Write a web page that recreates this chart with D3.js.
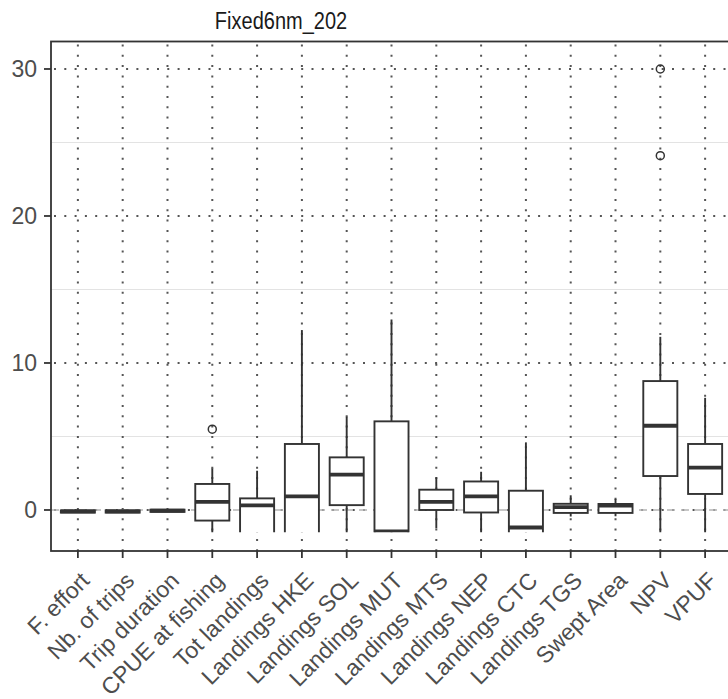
<!DOCTYPE html>
<html>
<head>
<meta charset="utf-8">
<script src="https://cdn.jsdelivr.net/npm/d3@7"></script>
<style>
  body { margin: 0; background: #fff; }
  text { font-family: "Liberation Sans", Arial, sans-serif; }
</style>
</head>
<body>
<svg id="chart"></svg>
<script>
const chartTitle = 'Fixed6nm_202';
const categories = ['F. effort', 'Nb. of trips', 'Trip duration', 'CPUE at fishing', 'Tot landings',
  'Landings HKE', 'Landings SOL', 'Landings MUT', 'Landings MTS', 'Landings NEP',
  'Landings CTC', 'Landings TGS', 'Swept Area', 'NPV', 'VPUF'];
const whiskerLow  = [-0.18, -0.18, -0.13, -2.0, -2.5, -2.5, -2.0, -2.5, -1.25, -2.0, -2.5, -0.45, -0.42, -2.0, -2.0];
const q1Values    = [-0.18, -0.18, -0.13, -0.72, -2.0, -2.0, 0.33, -2.0, 0.0, -0.17, -2.0, -0.2, -0.2, 2.31, 1.09];
const medians     = [-0.1, -0.1, -0.05, 0.55, 0.32, 0.93, 2.4, -1.45, 0.55, 0.93, -1.19, 0.2, 0.3, 5.73, 2.88];
const q3Values    = [-0.03, -0.03, 0.02, 1.77, 0.79, 4.49, 3.58, 6.03, 1.38, 1.94, 1.31, 0.42, 0.41, 8.77, 4.49];
const whiskerHigh = [-0.03, -0.03, 0.02, 2.83, 2.67, 12.24, 6.34, 12.96, 2.22, 2.6, 4.6, 1.0, 0.75, 11.78, 7.63];
const outlierCats = ['CPUE at fishing', 'NPV', 'NPV'];
const outlierVals = [5.5, 30.0, 24.1];
const majorTicks = [0, 10, 20, 30];
const minorTicks = [5, 15, 25];
const yDomain = [-2.79, 31.87];
const clipFloor = -1.52;   // lower part of the boxes is cut off in the original

const width = 728, height = 699;
const panel = {left: 51, right: 732, top: 41.5, bottom: 551};

const svg = d3.select('#chart')
  .attr('width', width)
  .attr('height', height);

const xScale = d3.scalePoint()
  .domain(categories)
  .range([panel.left, panel.right])
  .padding(0.6);
const boxWidth = xScale.step() * 0.76;

const yScale = d3.scaleLinear()
  .domain(yDomain)
  .range([panel.bottom, panel.top]);

// grid
const grid = svg.append('g');
grid.selectAll('.minor')
  .data(minorTicks)
  .enter()
  .append('line')
  .attr('x1', panel.left).attr('x2', panel.right)
  .attr('y1', d => yScale(d)).attr('y2', d => yScale(d))
  .attr('stroke', '#e3e3e3')
  .attr('stroke-width', 1);
grid.selectAll('.major')
  .data(majorTicks)
  .enter()
  .append('line')
  .attr('x1', panel.left + 3).attr('x2', panel.right)
  .attr('y1', d => yScale(d)).attr('y2', d => yScale(d))
  .attr('stroke', '#555')
  .attr('stroke-width', 2)
  .attr('stroke-dasharray', '2,8.3');
grid.selectAll('.vgrid')
  .data(categories)
  .enter()
  .append('line')
  .attr('x1', d => xScale(d)).attr('x2', d => xScale(d))
  .attr('y1', panel.top + 3).attr('y2', panel.bottom)
  .attr('stroke', '#555')
  .attr('stroke-width', 2)
  .attr('stroke-dasharray', '2,8.3');

// reference line at zero
svg.append('line')
  .attr('x1', panel.left).attr('x2', panel.right)
  .attr('y1', yScale(0)).attr('y2', yScale(0))
  .attr('stroke', '#b5b5b5')
  .attr('stroke-width', 1.7)
  .attr('stroke-dasharray', '8,6');

// boxes
svg.append('clipPath')
  .attr('id', 'boxClip')
  .append('rect')
  .attr('x', panel.left)
  .attr('y', panel.top)
  .attr('width', panel.right - panel.left)
  .attr('height', yScale(clipFloor) - panel.top);

const boxes = svg.append('g')
  .attr('clip-path', 'url(#boxClip)')
  .selectAll('g')
  .data(categories)
  .enter()
  .append('g');

boxes.append('line')
  .attr('x1', d => xScale(d)).attr('x2', d => xScale(d))
  .attr('y1', (d, i) => yScale(whiskerLow[i]))
  .attr('y2', (d, i) => yScale(whiskerHigh[i]))
  .attr('stroke', '#333')
  .attr('stroke-width', 1.9);

boxes.append('rect')
  .attr('x', d => xScale(d) - boxWidth / 2)
  .attr('width', boxWidth)
  .attr('y', (d, i) => yScale(q3Values[i]))
  .attr('height', (d, i) => yScale(q1Values[i]) - yScale(q3Values[i]))
  .attr('fill', '#fff')
  .attr('stroke', '#333')
  .attr('stroke-width', 1.9);

boxes.append('line')
  .attr('x1', d => xScale(d) - boxWidth / 2)
  .attr('x2', d => xScale(d) + boxWidth / 2)
  .attr('y1', (d, i) => yScale(medians[i]))
  .attr('y2', (d, i) => yScale(medians[i]))
  .attr('stroke', '#333')
  .attr('stroke-width', 3.8);

svg.selectAll('.outlier')
  .data(outlierVals)
  .enter()
  .append('circle')
  .attr('cx', (d, i) => xScale(outlierCats[i]))
  .attr('cy', d => yScale(d))
  .attr('r', 4)
  .attr('fill', 'none')
  .attr('stroke', '#333')
  .attr('stroke-width', 1.5);

// panel border
svg.append('rect')
  .attr('x', panel.left)
  .attr('y', panel.top)
  .attr('width', panel.right - panel.left)
  .attr('height', panel.bottom - panel.top)
  .attr('fill', 'none')
  .attr('stroke', '#333')
  .attr('stroke-width', 1.8);

// y axis
const yAxis = svg.append('g');
yAxis.selectAll('line')
  .data(majorTicks)
  .enter()
  .append('line')
  .attr('x1', panel.left - 7).attr('x2', panel.left)
  .attr('y1', d => yScale(d)).attr('y2', d => yScale(d))
  .attr('stroke', '#333')
  .attr('stroke-width', 1.8);
yAxis.selectAll('text')
  .data(majorTicks)
  .enter()
  .append('text')
  .attr('x', panel.left - 14)
  .attr('y', d => yScale(d))
  .attr('dy', '0.36em')
  .attr('text-anchor', 'end')
  .attr('font-size', 23)
  .attr('fill', '#4d4d4d')
  .text(d => d);

// x axis
const xAxis = svg.append('g');
xAxis.selectAll('line')
  .data(categories)
  .enter()
  .append('line')
  .attr('x1', d => xScale(d)).attr('x2', d => xScale(d))
  .attr('y1', panel.bottom).attr('y2', panel.bottom + 7)
  .attr('stroke', '#333')
  .attr('stroke-width', 1.8);
xAxis.selectAll('text')
  .data(categories)
  .enter()
  .append('text')
  .attr('transform', d => `translate(${xScale(d) + 13}, ${panel.bottom + 31}) rotate(-45)`)
  .attr('text-anchor', 'end')
  .attr('font-size', 23)
  .attr('fill', '#4d4d4d')
  .text(d => d);

svg.append('text')
  .attr('transform', 'translate(281, 29) scale(1, 1.15)')
  .attr('text-anchor', 'middle')
  .attr('font-size', 20)
  .attr('fill', '#1a1a1a')
  .text(chartTitle);
</script>
</body>
</html>
